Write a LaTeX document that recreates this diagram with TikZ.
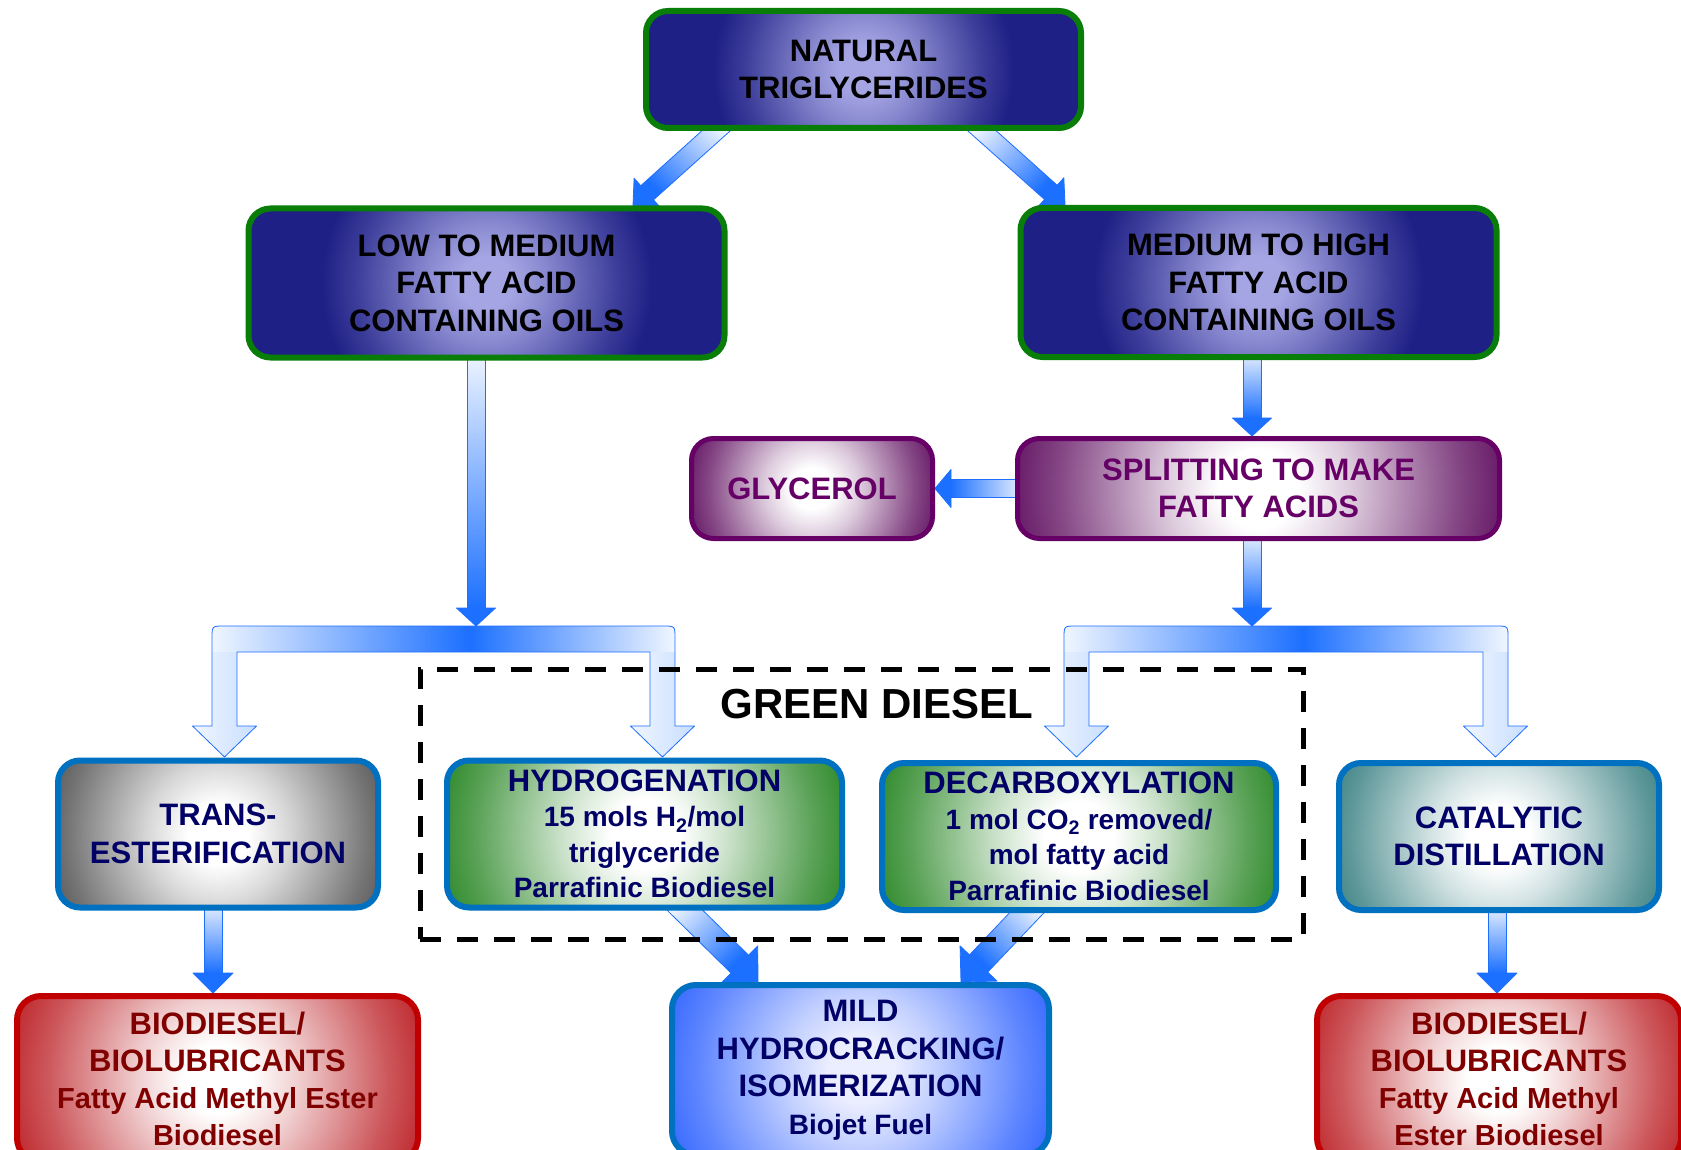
\documentclass[tikz,border=0pt]{standalone}
\usepackage{fontspec}
\setmainfont{Liberation Sans}
\usetikzlibrary{calc}

% colours
\definecolor{navyD}{RGB}{31,32,133}
\definecolor{navyL}{RGB}{165,165,228}
\definecolor{leafline}{RGB}{8,125,8}
\definecolor{plum}{RGB}{102,0,102}
\definecolor{plumE}{RGB}{100,22,100}
\definecolor{frameblue}{RGB}{0,112,192}
\definecolor{ink}{RGB}{0,0,102}
\definecolor{grayE}{RGB}{78,78,78}
\definecolor{greenE}{RGB}{42,135,38}
\definecolor{tealE}{RGB}{48,122,124}
\definecolor{redline}{RGB}{192,0,0}
\definecolor{redE}{RGB}{190,40,45}
\definecolor{redink}{RGB}{128,0,0}
\definecolor{blueE}{RGB}{55,105,255}
\definecolor{blueC}{RGB}{235,238,255}
\definecolor{flowD}{RGB}{28,112,255}
\definecolor{flowL}{RGB}{240,246,255}
\definecolor{flowM}{RGB}{200,222,255}
\definecolor{flowline}{RGB}{30,110,255}
\colorlet{glowin}{white}
\colorlet{glowa}{white}
\colorlet{glowb}{gray}
\colorlet{glowc}{black}
\colorlet{glowout}{black}

% circular glow used inside every box; it is laid on a square of half side 2r,
% so the glow fades out at radius r
\pgfdeclareradialshading[glowin,glowa,glowb,glowc,glowout]{glow}{\pgfpoint{0bp}{0bp}}{color(0bp)=(glowin); color(2bp)=(glowin); color(4.6bp)=(glowa); color(7.25bp)=(glowb); color(9.9bp)=(glowc); color(12.5bp)=(glowout); color(50bp)=(glowout)}

\pgfdeclarelayer{bg}
\pgfsetlayers{bg,main}

\tikzset{
  glow/.style n args={3}{fill=#2, path picture={%
      \colorlet{glowin}{#1}\colorlet{glowout}{#2}%
      \colorlet{glowa}{#1!78!#2}\colorlet{glowb}{#1!50!#2}\colorlet{glowc}{#1!22!#2}%
      \shade[shading=glow] (path picture bounding box.center) ++(-2*#3,-2*#3) rectangle ++(4*#3,4*#3);}},
  basebox/.style={rounded corners=22pt, inner sep=0pt, align=center, line width=6pt,
    font=\bfseries\fontsize{31}{37.5}\selectfont},
  oilbox/.style={basebox, draw=leafline, glow={navyL}{navyD}{165pt}, text=black,
    minimum width=476pt, minimum height=149pt},
  splitbox/.style={basebox, line width=5pt, draw=plum, text=plum, minimum height=100pt},
  procbox/.style={basebox, draw=frameblue, text=ink, minimum height=147pt},
  subbox/.style={procbox, glow={white}{greenE}{215pt}, font=\bfseries\fontsize{28}{35.5}\selectfont},
  productbox/.style={basebox, rounded corners=24pt, draw=redline, text=redink,
    anchor=north, minimum height=166pt, font=\bfseries\fontsize{29}{37}\selectfont},
  flowshaft/.style={draw=flowline, line width=0.8pt, line join=round},
  flowhead/.style={draw=flowline, fill=flowD, line width=0.8pt, line join=round}
}

% block arrow: [shading]{start}{tip}{shaft half width}{head half width}{head length}
\newcommand\fatarrow[6][]{%
  \coordinate (fac) at ($(#3)!#6!(#2)$);
  \path[flowshaft,#1] ($(#2)!#4!90:(#3)$) -- ($(fac)!#4!-90:(#2)$) -- ($(fac)!#4!90:(#2)$) -- ($(#2)!#4!-90:(#3)$) -- cycle;
  \path[flowhead] ($(fac)!#5!-90:(#2)$) -- (#3) -- ($(fac)!#5!90:(#2)$) -- cycle;
}

% forked arrow: {left leg x}{right leg x}{seam x}{bar top y}
\newcommand\splitbracket[4]{%
  \path[left color=flowL, right color=flowD] (#3,#4) -- (#1-0.5,#4) .. controls (#1-12.5,#4) .. (#1-12.5,#4+12) -- (#1-12.5,#4+26) -- (#3,#4+26) -- cycle;
  \path[left color=flowD, right color=flowL] (#3,#4) -- (#2+0.5,#4) .. controls (#2+12.5,#4) .. (#2+12.5,#4+12) -- (#2+12.5,#4+26) -- (#3,#4+26) -- cycle;
  \foreach \lx in {#1,#2} {
    \path[left color=flowL, right color=flowM] (\lx-12.5,#4+26) -- (\lx-12.5,#4+100) -- (\lx-32,#4+100) -- (\lx,#4+131) -- (\lx+32,#4+100) -- (\lx+12.5,#4+100) -- (\lx+12.5,#4+26) -- cycle;
  }
  \draw[flowshaft] (#3,#4) -- (#1-0.5,#4) .. controls (#1-12.5,#4) .. (#1-12.5,#4+12)
    -- (#1-12.5,#4+100) -- (#1-32,#4+100) -- (#1,#4+131) -- (#1+32,#4+100) -- (#1+12.5,#4+100)
    -- (#1+12.5,#4+26) -- (#2-12.5,#4+26)
    -- (#2-12.5,#4+100) -- (#2-32,#4+100) -- (#2,#4+131) -- (#2+32,#4+100) -- (#2+12.5,#4+100)
    -- (#2+12.5,#4+12) .. controls (#2+12.5,#4) .. (#2+0.5,#4) -- cycle;
  \draw[flowline, line width=0.8pt] (#3,#4) -- (#3,#4+26);
}

\begin{document}
\begin{tikzpicture}[x=1pt,y=-1pt]
\useasboundingbox (0,0) rectangle (1681,1150);
\clip (0,0) rectangle (1681,1150);

% feedstocks
\node[oilbox, glow={navyL}{navyD}{150pt}, minimum width=435pt, minimum height=117pt] (nat) at (863.5,69.5) {NATURAL\\TRIGLYCERIDES};
\node[oilbox] (low) at (486.5,283) {LOW TO MEDIUM\\FATTY ACID\\CONTAINING OILS};
\node[oilbox] (high) at (1258.5,282.5) {MEDIUM TO HIGH\\FATTY ACID\\CONTAINING OILS};

% splitting
\node[splitbox, glow={white}{plumE}{130pt}, minimum width=241pt] (gly) at (812,488.5) {GLYCEROL};
\node[splitbox, glow={white}{plumE}{250pt}, minimum width=482pt] (split) at (1258.5,488.5) {SPLITTING TO MAKE\\FATTY ACIDS};

% conversion routes
\node[procbox, glow={white}{grayE}{190pt}, minimum width=320pt] (trans) at (218,834) {TRANS-\\ESTERIFICATION};
\node[subbox, minimum width=395pt] (hydro) at (644.5,834)
  {{\fontsize{31}{35.5}\selectfont HYDROGENATION}\\15 mols H\textsubscript{2}/mol\\triglyceride\\Parrafinic Biodiesel};
\node[subbox, minimum width=394pt] (decarb) at (1079,836.5)
  {{\fontsize{31}{35.5}\selectfont DECARBOXYLATION}\\1 mol CO\textsubscript{2} removed/\\mol fatty acid\\Parrafinic Biodiesel};
\node[procbox, glow={white}{tealE}{190pt}, minimum width=320pt] (cat) at (1499,836.5) {CATALYTIC\\DISTILLATION};

% products
\node[productbox, glow={white}{redE}{215pt}, minimum width=401pt] (bioL) at (217.5,993)
  {{\fontsize{31}{37}\selectfont BIODIESEL/}\\{\fontsize{31}{37}\selectfont BIOLUBRICANTS}\\Fatty Acid Methyl Ester\\Biodiesel};
\node[productbox, draw=frameblue, glow={blueC}{blueE}{205pt}, text=ink, minimum width=377pt, minimum height=170pt,
  font=\bfseries\fontsize{28}{37.5}\selectfont] (mild) at (860.5,982)
  {{\fontsize{31}{37.5}\selectfont MILD}\\{\fontsize{31}{37.5}\selectfont HYDROCRACKING/}\\{\fontsize{31}{37.5}\selectfont ISOMERIZATION}\\Biojet Fuel};
\node[productbox, glow={white}{redE}{200pt}, minimum width=364pt] (bioR) at (1499,993)
  {{\fontsize{31}{37}\selectfont BIODIESEL/}\\{\fontsize{31}{37}\selectfont BIOLUBRICANTS}\\Fatty Acid Methyl\\Ester Biodiesel};

% arrows
\begin{pgfonlayer}{bg}
  \fill[white] (0,0) rectangle (1681,1150);

  \coordinate (a1s) at ($(nat.south)+(-136.5,-10)$);
  \coordinate (a1t) at ($(low.north)+(146.5,0)$);
  \fatarrow[top color=flowL, bottom color=flowD, shading angle=-45]{a1s}{a1t}{9.5pt}{19.5pt}{19pt}
  \coordinate (a2s) at ($(nat.south)+(107.5,-10)$);
  \coordinate (a2t) at ($(high.north)+(-193.5,0)$);
  \fatarrow[top color=flowL, bottom color=flowD, shading angle=45]{a2s}{a2t}{9.5pt}{19.5pt}{19pt}

  \coordinate (forkL) at (476,626);
  \coordinate (forkR) at (1252,626);
  \coordinate (a3s) at ($(low.south)+(-10.5,-10)$);
  \fatarrow[top color=flowL, bottom color=flowD]{a3s}{forkL}{9pt}{19.5pt}{18pt}
  \splitbracket{224.5}{662.5}{470}{626}

  \coordinate (a4s) at ($(high.south)+(-6.5,-10)$);
  \coordinate (a4t) at ($(split.north)+(-6.5,0)$);
  \fatarrow[top color=flowL, bottom color=flowD]{a4s}{a4t}{9pt}{19.5pt}{18pt}
  \coordinate (a5s) at ($(split.south)+(-6.5,-10)$);
  \fatarrow[top color=flowL, bottom color=flowD]{a5s}{forkR}{9pt}{19.5pt}{18pt}
  \splitbracket{1076.5}{1495.5}{1303}{626}

  \coordinate (a6s) at ($(split.west)+(10,0)$);
  \fatarrow[left color=flowD, right color=flowL]{a6s}{gly.east}{9pt}{19pt}{16pt}

  \coordinate (a7s) at ($(trans.south)+(-5,-10)$);
  \coordinate (a7t) at ($(bioL.north)+(-4.5,0)$);
  \fatarrow[top color=flowL, bottom color=flowD]{a7s}{a7t}{9pt}{20pt}{20pt}
  \coordinate (a8s) at ($(cat.south)+(-2,-10)$);
  \coordinate (a8t) at ($(bioR.north)+(-2,0)$);
  \fatarrow[top color=flowL, bottom color=flowD]{a8s}{a8t}{9pt}{20pt}{20pt}

  \coordinate (a9s) at ($(hydro.south)+(30.5,-10)$);
  \coordinate (a9t) at ($(mild.north)+(-102.5,0)$);
  \fatarrow[top color=flowL, bottom color=flowD, shading angle=45]{a9s}{a9t}{12.5pt}{25.5pt}{25.5pt}
  \coordinate (a10s) at ($(decarb.south)+(-42,-11)$);
  \coordinate (a10t) at ($(mild.north)+(100.5,0)$);
  \fatarrow[top color=flowL, bottom color=flowD, shading angle=-45]{a10s}{a10t}{12.5pt}{25.5pt}{25.5pt}
\end{pgfonlayer}

% green diesel group
\node[draw=black, line width=5pt, dash pattern=on 21pt off 16pt, inner sep=0pt,
  minimum width=883pt, minimum height=270pt] (gd) at (861.5,804) {};
\node[font=\bfseries\fontsize{42}{50}\selectfont] (gdlabel) at (877,704) {GREEN DIESEL};
\end{tikzpicture}
\end{document}
